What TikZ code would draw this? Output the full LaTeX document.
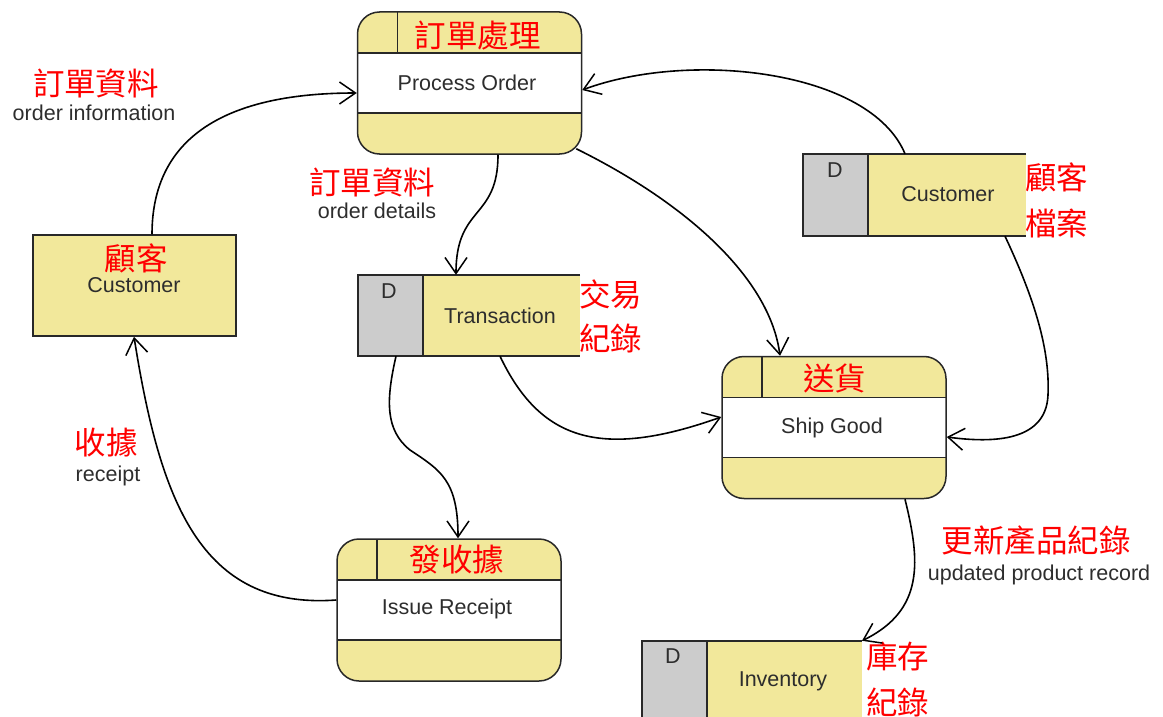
\documentclass[tikz,border=0pt]{standalone}
\usepackage{fontspec}
\setmainfont{Liberation Sans}
\newfontfamily\cjk{Noto Sans CJK TC}
\usetikzlibrary{arrows.meta,calc}
\definecolor{dfdyellow}{RGB}{242,232,155}
\definecolor{dfdgray}{RGB}{204,204,204}
\definecolor{edgeline}{RGB}{40,40,40}
\definecolor{entext}{RGB}{45,45,45}
\tikzset{
  en/.style={font=\fontsize{21.5}{23}\selectfont, text=entext, inner sep=0pt},
  zh/.style={font=\cjk\fontsize{31.5}{33}\selectfont, text=red, inner sep=0pt},
  border/.style={draw=edgeline, line width=1.5pt, sharp corners},
  flow/.style={draw=black, line width=1.6pt,
    -{Straight Barb[length=16pt,width=22pt,line width=1.5pt]}},
  proc/.style={draw=edgeline, line width=1.5pt, fill=dfdyellow,
    rounded corners=22pt, minimum width=224pt, minimum height=142pt, inner sep=0pt,
    path picture={
      \fill[white, sharp corners] ([yshift=-41pt]path picture bounding box.north west)
        rectangle ([yshift=41pt]path picture bounding box.south east);
      \draw[border] ([yshift=-41pt]path picture bounding box.north west)
        -- ([yshift=-41pt]path picture bounding box.north east);
      \draw[border] ([yshift=41pt]path picture bounding box.south west)
        -- ([yshift=41pt]path picture bounding box.south east);
      \draw[border] ([xshift=40pt]path picture bounding box.north west)
        -- ([xshift=40pt,yshift=-41pt]path picture bounding box.north west);
    }},
  ent/.style={draw=edgeline, line width=1.5pt, fill=dfdyellow,
    minimum width=203pt, minimum height=101pt, inner sep=0pt},
  storebox/.style={fill=dfdyellow, inner sep=0pt, minimum height=81pt,
    path picture={
      \fill[dfdgray] (path picture bounding box.north west)
        rectangle ([xshift=65pt]path picture bounding box.south west);
    }},
}
\begin{document}
\begin{tikzpicture}[x=1pt,y=-1pt]
\useasboundingbox (0,0) rectangle (1163,717);
\clip (0,0) rectangle (1163,717);

% processes
\node[proc] (po) at (469.5,83) {};
\node[proc] (ship) at (834,427.5) {};
\node[proc] (issue) at (449,610) {};

% external entity
\node[ent] (cust) at (134.5,285.5) {};

% data stores
\node[storebox, minimum width=222pt] (trans) at (469,315.5) {};
\draw[border] (trans.north east) -- (trans.north west) -- (trans.south west) -- (trans.south east);
\draw[border] ([xshift=65pt]trans.north west) -- ([xshift=65pt]trans.south west);

\node[storebox, minimum width=223pt, minimum height=82pt] (cstore) at (914.5,195) {};
\draw[border] (cstore.north east) -- (cstore.north west) -- (cstore.south west) -- (cstore.south east);
\draw[border] ([xshift=65pt]cstore.north west) -- ([xshift=65pt]cstore.south west);

\node[storebox, minimum width=220pt] (inv) at (752,681.5) {};
\draw[border] (inv.north east) -- (inv.north west) -- (inv.south west) -- (inv.south east);
\draw[border] ([xshift=65pt]inv.north west) -- ([xshift=65pt]inv.south west);

% texts in shapes
\node[zh] (poZ) at (477.5,36) {訂單處理};
\node[en] (poE) at (467,83) {Process Order};
\node[zh] (shipZ) at (834.5,378) {送貨};
\node[en] (shipE) at (832,428) {Ship Good};
\node[zh] (issZ) at (457,560) {發收據};
\node[en] (issE) at (447,609) {Issue Receipt};
\node[zh] (custZ) at (136,258) {顧客};
\node[en] (custE) at (134,285) {Customer};
\node[en] (transD) at (389,291) {D};
\node[en] (transE) at (500,316) {Transaction};
\node[zh, anchor=west] (transZ1) at (579,294) {交易};
\node[zh, anchor=west] (transZ2) at (579,338) {紀錄};
\node[en] (cstoreD) at (835,170) {D};
\node[en] (cstoreE) at (948,194) {Customer};
\node[zh, anchor=west] (cstoreZ1) at (1025,177) {顧客};
\node[zh, anchor=west] (cstoreZ2) at (1025,223) {檔案};
\node[en] (invD) at (673,656) {D};
\node[en] (invE) at (783,681) {Inventory};
\node[zh, anchor=west] (invZ1) at (866,657) {庫存};
\node[zh, anchor=west] (invZ2) at (866,702) {紀錄};

% flow labels
\node[zh] (l1z) at (96,83) {訂單資料};
\node[en] (l1e) at (94,113) {order information};
\node[zh] (l2z) at (372,182) {訂單資料};
\node[en] (l2e) at (377,211) {order details};
\node[zh] (l3z) at (106,443) {收據};
\node[en] (l3e) at (108,476) {receipt};
\node[zh] (l4z) at (1036,541) {更新產品紀錄};
\node[en] (l4e) at (1039,575) {updated product record};

% flows
\draw[flow] (cust.north -| 152,0) .. controls (152,125) and (245,93) .. (po.west |- 0,93);
\draw[flow] (po.south -| 498,0) .. controls (498,220) and (456,205) .. (trans.north -| 456,0);
\draw[flow] ($(po.south east)+(-6,-6)$) .. controls (690,205) and (770,280) .. (ship.north -| 780,0);
\draw[flow] (cstore.north -| 905,0) .. controls (870,70) and (690,50) .. (po.east |- 0,90);
\draw[flow] (cstore.south -| 1005,0) .. controls (1035,300) and (1050,350) .. (1048,395)
  .. controls (1046,445) and (985,442) .. (ship.east |- 0,437);
\draw[flow] (trans.south -| 500,0) .. controls (540,440) and (600,460) .. (ship.west |- 0,417);
\draw[flow] (trans.south -| 396,0) .. controls (386,400) and (385,430) .. (410,450)
  .. controls (440,470) and (458,480) .. (issue.north -| 458,0);
\draw[flow] (issue.west |- 0,600) .. controls (200,610) and (160,500) .. (cust.south -| 134,0);
\draw[flow] (ship.south -| 905,0) .. controls (920,560) and (925,610) .. (inv.north -| 862,0);
\end{tikzpicture}
\end{document}
